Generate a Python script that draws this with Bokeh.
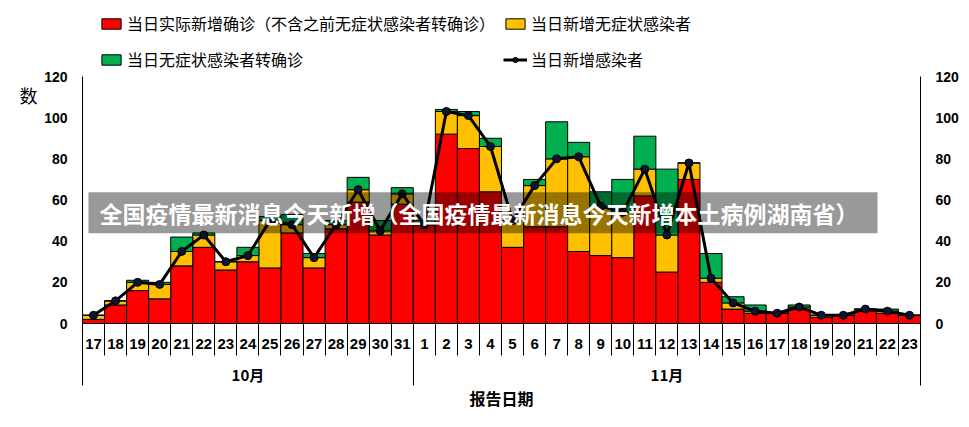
from bokeh.plotting import figure
from bokeh.models import (ColumnDataSource, Range1d, LinearAxis, FixedTicker, Legend, LegendItem,
                          BoxAnnotation, Label)
from bokeh.embed import file_html
from bokeh.resources import INLINE

# ---- data ----
days = ["17", "18", "19", "20", "21", "22", "23", "24", "25", "26", "27", "28", "29", "30", "31",
        "1", "2", "3", "4", "5", "6", "7", "8", "9", "10", "11", "12", "13", "14", "15", "16",
        "17", "18", "19", "20", "21", "22", "23"]
months = ["10月", "11月"]
month_day_counts = [15, 23]

confirmed = [2, 9, 16, 12, 28, 37, 26, 30, 27, 44, 27, 46, 59, 43, 58,
             48, 92, 85, 64, 37, 47, 47, 35, 33, 32, 62, 25, 70, 20, 7, 5, 5, 7, 3, 4, 6, 5, 4]
asymptomatic = [2, 2, 4, 7, 7, 6, 4, 3, 23, 4, 5, 2, 6, 2, 5,
                0, 11, 16, 22, 13, 20, 33, 46, 24, 22, 13, 18, 8, 2, 3, 1, 0, 1, 1, 0, 1, 1, 0]
converted = [0, 0, 1, 1, 7, 1, 0, 4, 2, 5, 2, 2, 6, 5, 3,
             2, 1, 2, 4, 0, 3, 18, 7, 7, 16, 16, 32, 0, 12, 3, 3, 0, 1, 0, 0, 0, 1, 0]
new_infections = [4, 11, 20, 19, 35, 43, 30, 33, 50, 48, 32, 48, 65, 45, 63,
                  48, 103, 101, 86, 50, 67, 80, 81, 57, 54, 75, 43, 78, 22, 10, 6, 5, 8, 4, 4, 7, 6, 4]
y_ticks = [0, 20, 40, 60, 80, 100, 120]

series_names = ["当日实际新增确诊（不含之前无症状感染者转确诊）", "当日新增无症状感染者",
                "当日无症状感染者转确诊", "当日新增感染者"]
banner_text = "全国疫情最新消息今天新增（全国疫情最新消息今天新增本土病例湖南省）"
y_title = "数"
x_title = "报告日期"

# ---- build ----
n = len(days)
xs = list(range(n))
src = ColumnDataSource(dict(x=xs, confirmed=confirmed, asymptomatic=asymptomatic,
                            converted=converted, total=new_infections))

y_max = y_ticks[-1]
y_view_top = y_max * 323.0 / 247.0   # frame reaches the top of the canvas (room for legend)

p = figure(width=969, height=427, x_range=Range1d(-0.5, n - 0.5), y_range=Range1d(0, y_view_top),
           output_backend="svg", toolbar_location=None, x_axis_type=None, y_axis_type=None,
           min_border_left=82, min_border_right=49, min_border_top=0, min_border_bottom=104)
p.outline_line_color = None
p.grid.visible = False
p.background_fill_color = "white"
p.border_fill_color = "white"

bars = p.vbar_stack(["confirmed", "asymptomatic", "converted"], x="x", width=1.0, source=src,
                    fill_color=["#FF0000", "#FFC000", "#00B050"], line_color="black", line_width=1)
ln = p.line("x", "total", source=src, line_color="black", line_width=3)
sc = p.scatter("x", "total", source=src, size=8, marker="circle",
               fill_color="#0b1430", line_color="black")

num_font = "'Liberation Sans', Arial, sans-serif"
cjk_font = "'Noto Sans CJK SC', sans-serif"

def style_y(ax, standoff):
    ax.ticker = FixedTicker(ticks=y_ticks)
    ax.bounds = (0, y_max)
    ax.axis_line_color = "black"
    ax.axis_line_width = 1
    ax.major_tick_out = 0
    ax.major_tick_in = 0
    ax.minor_tick_out = 0
    ax.minor_tick_in = 0
    ax.major_label_standoff = standoff
    ax.major_label_text_font = num_font
    ax.major_label_text_font_style = "bold"
    ax.major_label_text_font_size = "14px"
    ax.major_label_text_color = "black"

yl = LinearAxis()
style_y(yl, 15)
p.add_layout(yl, "left")

# y title "数" as a one-tick axis placed left of the value axis
y_title_pos = 111
yt = LinearAxis(ticker=FixedTicker(ticks=[y_title_pos]),
                major_label_overrides={y_title_pos: y_title})
yt.axis_line_color = None
yt.major_tick_out = 0
yt.major_tick_in = 0
yt.minor_tick_out = 0
yt.minor_tick_in = 0
yt.major_label_standoff = 4
yt.major_label_text_font = cjk_font
yt.major_label_text_font_size = "18px"
yt.major_label_text_color = "black"
p.add_layout(yt, "left")

yr = LinearAxis()
style_y(yr, 15)
p.add_layout(yr, "right")

# day row
day_ax = LinearAxis(ticker=FixedTicker(ticks=xs, minor_ticks=[i - 0.5 for i in range(n + 1)]),
                    major_label_overrides={i: d for i, d in enumerate(days)})
day_ax.axis_line_color = "black"
day_ax.major_tick_out = 0
day_ax.major_tick_in = 0
day_ax.minor_tick_out = 32
day_ax.minor_tick_in = 0
day_ax.minor_tick_line_color = "black"
day_ax.major_label_standoff = -17
day_ax.major_label_text_font = num_font
day_ax.major_label_text_font_style = "bold"
day_ax.major_label_text_font_size = "15px"
day_ax.major_label_text_color = "black"
p.add_layout(day_ax, "below")

# month row
starts = [sum(month_day_counts[:k]) for k in range(len(months))]
centers = [s + (c - 1) / 2 for s, c in zip(starts, month_day_counts)]
bounds = [s - 0.5 for s in starts] + [n - 0.5]
mon_ax = LinearAxis(ticker=FixedTicker(ticks=centers, minor_ticks=bounds),
                    major_label_overrides={c: m for c, m in zip(centers, months)})
mon_ax.axis_line_color = None
mon_ax.major_tick_out = 0
mon_ax.major_tick_in = 0
mon_ax.minor_tick_out = 34
mon_ax.minor_tick_in = 0
mon_ax.minor_tick_line_color = "black"
mon_ax.major_label_standoff = -22
mon_ax.major_label_text_font = cjk_font
mon_ax.major_label_text_font_style = "bold"
mon_ax.major_label_text_font_size = "15px"
mon_ax.major_label_text_color = "black"
mon_ax.axis_label = x_title
mon_ax.axis_label_standoff = -2
mon_ax.axis_label_text_font = cjk_font
mon_ax.axis_label_text_font_style = "bold"
mon_ax.axis_label_text_font_size = "16px"
mon_ax.axis_label_text_color = "black"
p.add_layout(mon_ax, "below")

# legend (inside the frame, above the value area)
legend = Legend(items=[LegendItem(label=series_names[0], renderers=[bars[0]]),
                       LegendItem(label=series_names[1], renderers=[bars[1]]),
                       LegendItem(label=series_names[2], renderers=[bars[2]]),
                       LegendItem(label=series_names[3], renderers=[ln, sc])],
                orientation="horizontal", ncols=2, location=(17, 250))
legend.border_line_color = None
legend.background_fill_alpha = 0
legend.padding = 4
legend.margin = 0
legend.spacing = 8
legend.label_height = 28
legend.glyph_width = 24
legend.glyph_height = 13
legend.label_standoff = 4
legend.label_text_font = cjk_font
legend.label_text_font_size = "16px"
legend.label_text_color = "black"
p.add_layout(legend, "center")

# overlay banner
p.add_layout(BoxAnnotation(left=-0.23, right=35.55, bottom=43.9, top=63.8,
                           fill_color="black", fill_alpha=0.4, line_color=None))
p.add_layout(Label(x=17.48, y=53.9, text=banner_text, text_align="center", text_baseline="middle",
                   text_font=cjk_font, text_font_style="bold", text_font_size="23px",
                   text_color="white"))

open("out.html", "w").write(file_html(p, INLINE))
